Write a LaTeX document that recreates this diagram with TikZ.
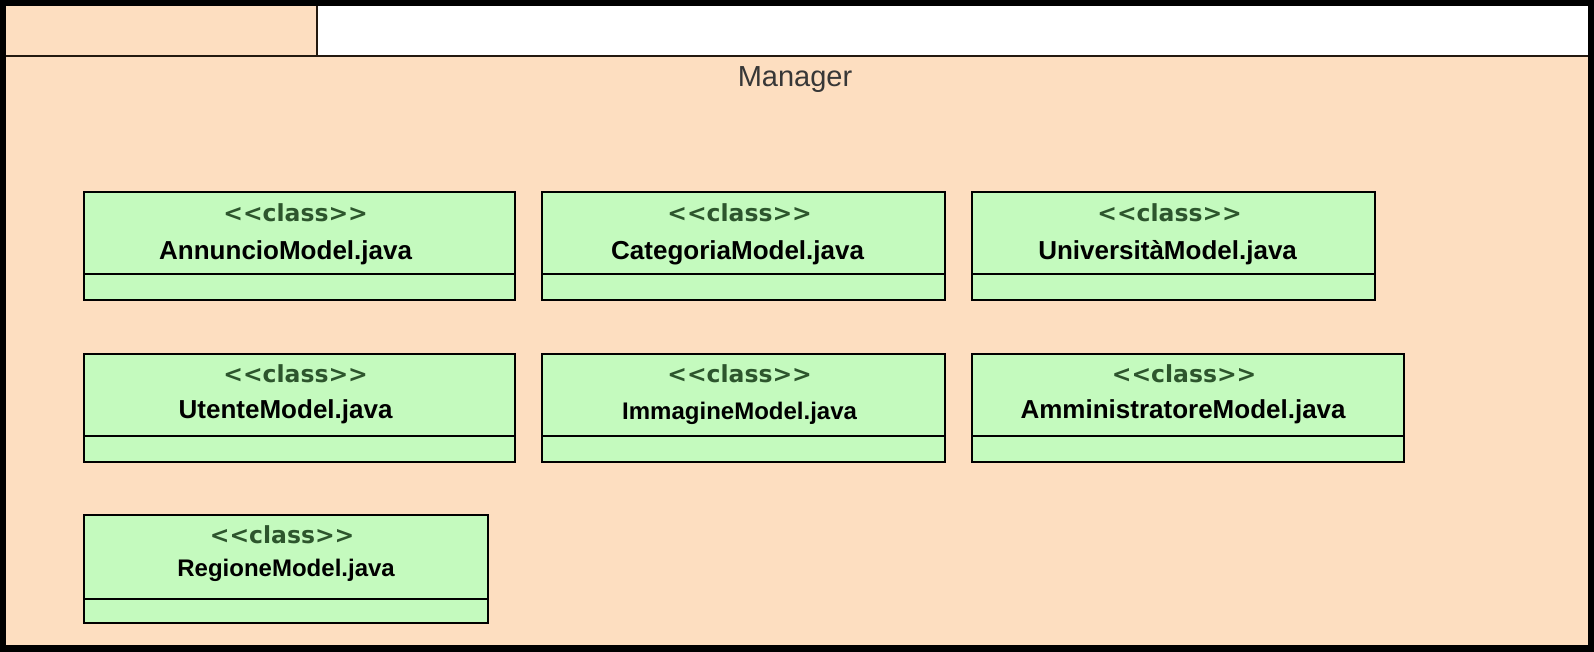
\documentclass[tikz,border=0pt]{standalone}
\usepackage{fontspec}
\setmainfont{Liberation Sans}
\newfontfamily\stereofont{DejaVu Sans}
\usetikzlibrary{positioning,calc}
\definecolor{pkgpeach}{RGB}{253,222,192}
\definecolor{classgreen}{RGB}{196,250,190}
\definecolor{stereogreen}{RGB}{45,85,45}
\definecolor{pkgtext}{RGB}{55,55,55}
\definecolor{edgedark}{RGB}{35,25,15}

\begin{document}
\begin{tikzpicture}[
      x=1pt, y=-1pt,
      classbox/.style={rectangle, draw=black, line width=2.2pt, fill=classgreen, anchor=north west, minimum height=108pt, inner sep=0pt},
      stereo/.style={font=\stereofont\bfseries\fontsize{23.5}{26}\selectfont, text=stereogreen, inner sep=0pt},
      cname/.style={font=\bfseries\fontsize{26}{29}\selectfont, inner sep=0pt},
      divider/.style={draw=black, line width=2pt},
      pkgline/.style={draw=edgedark, line width=2pt}
    ]
      \useasboundingbox (0,0) rectangle (1594,652);
      % frame and package
      \fill[black] (0,0) rectangle (1594,652);
      \fill[white] (6,6) rectangle (1588,56);
      \fill[pkgpeach] (6,6) rectangle (317,56);
      \fill[pkgpeach] (6,56) rectangle (1588,645);
      \draw[pkgline] (6,56) -- (1588,56);
      \draw[pkgline] (317,6) -- (317,56);
      \node[font=\fontsize{29}{33}\selectfont, text=pkgtext] (pkgname) at (795,80) {Manager};

      % first row
      \node[classbox, minimum width=431pt] (annuncio) at (83,191) {};
      \node[classbox, minimum width=403pt] (categoria) at (541,191) {};
      \node[classbox, minimum width=403pt] (universita) at (971,191) {};

      % second row
      \node[classbox, minimum width=431pt] (utente) at (83,353) {};
      \node[classbox, minimum width=403pt] (immagine) at (541,353) {};
      \node[classbox, minimum width=432pt] (amministratore) at (971,353) {};

      % third row
      \node[classbox, minimum width=404pt] (regione) at (83,514) {};

      \node[stereo] (annuncioS) at ($(annuncio.north)+(-4,22)$) {<\kern0pt<class>\kern0pt>};
      \node[cname] (annuncioN) at ($(annuncio.north)+(-14,62)$) {AnnuncioModel.java};
      \draw[divider] ($(annuncio.south west)+(0,-27)$) -- ($(annuncio.south east)+(0,-27)$);

      \node[stereo] (categoriaS) at ($(categoria.north)+(-4,22)$) {<\kern0pt<class>\kern0pt>};
      \node[cname] (categoriaN) at ($(categoria.north)+(-6,62)$) {CategoriaModel.java};
      \draw[divider] ($(categoria.south west)+(0,-27)$) -- ($(categoria.south east)+(0,-27)$);

      \node[stereo] (universitaS) at ($(universita.north)+(-4,22)$) {<\kern0pt<class>\kern0pt>};
      \node[cname] (universitaN) at ($(universita.north)+(-6,62)$) {UniversitàModel.java};
      \draw[divider] ($(universita.south west)+(0,-27)$) -- ($(universita.south east)+(0,-27)$);

      \node[stereo] (utenteS) at ($(utente.north)+(-4,21)$) {<\kern0pt<class>\kern0pt>};
      \node[cname] (utenteN) at ($(utente.north)+(-14,59)$) {UtenteModel.java};
      \draw[divider] ($(utente.south west)+(0,-27)$) -- ($(utente.south east)+(0,-27)$);

      \node[stereo] (immagineS) at ($(immagine.north)+(-4,21)$) {<\kern0pt<class>\kern0pt>};
      \node[cname, font=\bfseries\fontsize{24}{28}\selectfont] (immagineN) at ($(immagine.north)+(-4,60)$) {ImmagineModel.java};
      \draw[divider] ($(immagine.south west)+(0,-27)$) -- ($(immagine.south east)+(0,-27)$);

      \node[stereo] (amministratoreS) at ($(amministratore.north)+(-4,21)$) {<\kern0pt<class>\kern0pt>};
      \node[cname] (amministratoreN) at ($(amministratore.north)+(-5,59)$) {AmministratoreModel.java};
      \draw[divider] ($(amministratore.south west)+(0,-27)$) -- ($(amministratore.south east)+(0,-27)$);

      \node[stereo] (regioneS) at ($(regione.north)+(-4,21)$) {<\kern0pt<class>\kern0pt>};
      \node[cname, font=\bfseries\fontsize{24}{28}\selectfont] (regioneN) at ($(regione.north)+(0,56)$) {RegioneModel.java};
      \draw[divider] ($(regione.south west)+(0,-25)$) -- ($(regione.south east)+(0,-25)$);
    \end{tikzpicture}
\end{document}
